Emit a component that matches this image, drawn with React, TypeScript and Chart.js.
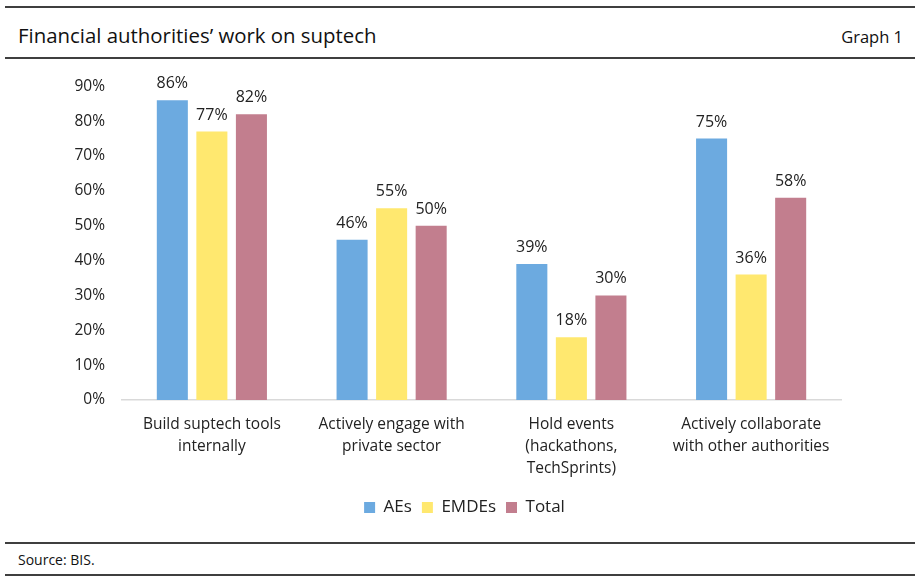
import React, { useEffect, useRef } from "react";
import { Chart, registerables } from "chart.js";

Chart.register(...registerables);

const categories: string[][] = [
  ["Build suptech tools", "internally"],
  ["Actively engage with", "private sector"],
  ["Hold events", "(hackathons,", "TechSprints)"],
  ["Actively collaborate", "with other authorities"],
];
const aes = [86, 46, 39, 75];
const emdes = [77, 55, 18, 36];
const total = [82, 50, 30, 58];
const seriesNames = ["AEs", "EMDEs", "Total"];
const yTicksMax = 90;
const yTickStep = 10;

const FONT = "'Open Sans', 'Noto Sans', sans-serif";
const TEXT = "#222222";

const valueLabels = {
  id: "valueLabels",
  afterDatasetsDraw(chart: any) {
    const ctx = chart.ctx;
    ctx.save();
    ctx.font = `16px ${FONT}`;
    ctx.fillStyle = TEXT;
    ctx.textAlign = "center";
    ctx.textBaseline = "alphabetic";
    chart.data.datasets.forEach((ds: any, i: number) => {
      const meta = chart.getDatasetMeta(i);
      meta.data.forEach((el: any, j: number) => {
        ctx.fillText(`${ds.data[j]}%`, el.x, el.y - 12);
      });
    });
    ctx.restore();
  },
};

// centre the legend on the page (like the reference) rather than on the padded area
const legendShift = {
  id: "legendShift",
  afterLayout(chart: any) {
    const lg = chart.legend;
    if (!lg) return;
    const shift = 44;
    lg.left += shift;
    lg.right += shift;
    if (lg.legendHitBoxes) {
      lg.legendHitBoxes.forEach((b: any) => {
        b.left += shift;
      });
    }
  },
};

export default function App() {
  const ref = useRef<HTMLCanvasElement | null>(null);
  useEffect(() => {
    if (!ref.current) return;
    const chart = new Chart(ref.current, {
      type: "bar",
      data: {
        labels: categories,
        datasets: [
          { label: seriesNames[0], data: aes, backgroundColor: "#6CAAE0" },
          { label: seriesNames[1], data: emdes, backgroundColor: "#FFE86F" },
          { label: seriesNames[2], data: total, backgroundColor: "#C27E8E" },
        ],
      },
      options: {
        responsive: false,
        animation: false,
        devicePixelRatio: 1,
        layout: { padding: { top: 26, right: 80, bottom: 14, left: 0 } },
        datasets: {
          bar: { categoryPercentage: 0.66, barPercentage: 0.785 },
        },
        plugins: {
          legend: {
            position: "bottom",
            labels: {
              boxWidth: 11,
              boxHeight: 11,
              padding: 10,
              color: TEXT,
              font: { family: FONT, size: 17 },
            },
          },
          tooltip: { enabled: false },
        },
        scales: {
          x: {
            grid: { display: false, drawTicks: false },
            border: { display: true, color: "#d9d9d9", width: 1.5 },
            ticks: {
              color: TEXT,
              font: { family: FONT, size: 15.5, lineHeight: 1.42 },
              padding: 14,
              maxRotation: 0,
              autoSkip: false,
            },
            afterFit: (s: any) => {
              s.height = 89;
            },
          },
          y: {
            min: 0,
            max: yTicksMax,
            grid: { display: false, drawTicks: false },
            border: { display: false },
            ticks: {
              stepSize: yTickStep,
              color: TEXT,
              font: { family: FONT, size: 15.5 },
              padding: 17,
              callback: (v: any) => `${v}%`,
            },
            afterFit: (s: any) => {
              s.width = 122;
            },
          },
        },
      },
      plugins: [valueLabels, legendShift],
    });
    return () => chart.destroy();
  }, []);

  const line = (top: number): React.CSSProperties => ({
    position: "absolute",
    left: 5,
    width: 910,
    top,
    height: 2,
    background: "#3f3f3f",
  });

  return (
    <div
      style={{
        position: "absolute",
        left: 0,
        top: 0,
        width: 921,
        height: 585,
        background: "#ffffff",
        fontFamily: FONT,
        color: "#111",
      }}
    >
      <div style={line(6)} />
      <div
        style={{
          position: "absolute",
          left: 18,
          top: 22,
          fontSize: 20.4,
          lineHeight: "26px",
          whiteSpace: "nowrap",
        }}
      >
        Financial authorities’ work on suptech
      </div>
      <div
        style={{
          position: "absolute",
          right: 18,
          top: 25,
          fontSize: 16.5,
          lineHeight: "24px",
        }}
      >
        Graph 1
      </div>
      <div style={line(57)} />
      <canvas
        ref={ref}
        width={921}
        height={480}
        style={{ position: "absolute", left: 0, top: 60, width: 921, height: 480 }}
      />
      <div style={line(542)} />
      <div
        style={{
          position: "absolute",
          left: 18,
          top: 550,
          fontSize: 14,
          lineHeight: "20px",
        }}
      >
        Source: BIS.
      </div>
      <div style={line(574)} />
    </div>
  );
}
